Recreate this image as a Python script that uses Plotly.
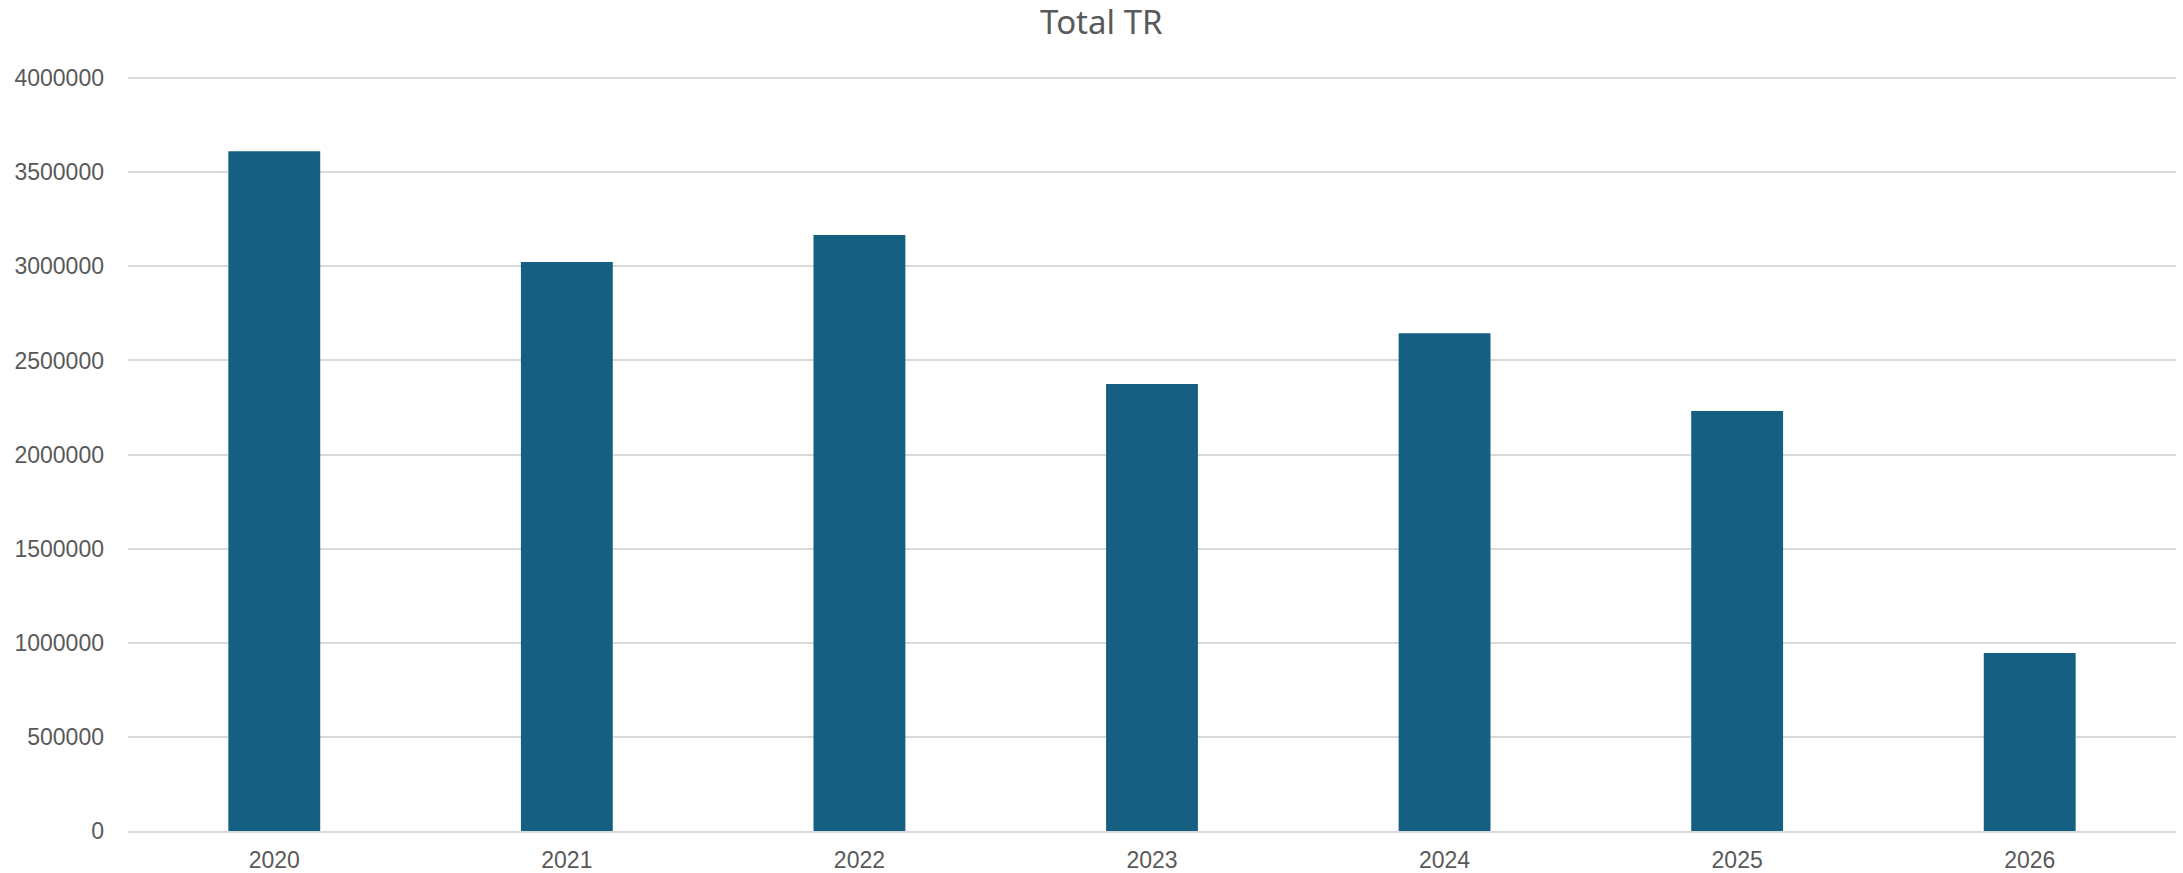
import plotly.graph_objects as go

years = ["2020", "2021", "2022", "2023", "2024", "2025", "2026"]
total_tr = [3612000, 3023000, 3166000, 2375000, 2645000, 2231000, 946000]
y_ticks = [0, 500000, 1000000, 1500000, 2000000, 2500000, 3000000, 3500000, 4000000]

fig = go.Figure(
    go.Bar(
        x=years,
        y=total_tr,
        marker=dict(color="#156082", line=dict(width=0)),
    )
)

fig.update_layout(
    width=2183,
    height=873,
    paper_bgcolor="white",
    plot_bgcolor="white",
    margin=dict(l=128, r=7, t=77, b=42),
    bargap=0.686,
    showlegend=False,
    title=dict(
        text="Total TR",
        x=0.5045,
        xanchor="center",
        y=1 - 22.5 / 873,
        yanchor="middle",
        font=dict(family="Noto Sans", size=33, color="#595959"),
    ),
    font=dict(family="Liberation Sans, Arial", size=23, color="#595959"),
)

fig.update_xaxes(
    type="category",
    showgrid=False,
    showline=True,
    linecolor="#D9D9D9",
    linewidth=2,
    ticks="",
    ticklabelstandoff=7,
    tickfont=dict(size=23, color="#595959"),
    automargin=False,
)

fig.update_yaxes(
    range=[0, 4006000],
    tickvals=y_ticks,
    tickformat="d",
    showgrid=True,
    gridcolor="#D9D9D9",
    gridwidth=2,
    zeroline=False,
    showline=False,
    ticks="",
    ticklabelstandoff=23,
    tickfont=dict(size=23, color="#595959"),
    automargin=False,
)

fig.write_html(
    "out.html",
    config={"displayModeBar": False},
    post_script="document.body.style.margin='0';document.body.style.overflow='hidden';",
)
